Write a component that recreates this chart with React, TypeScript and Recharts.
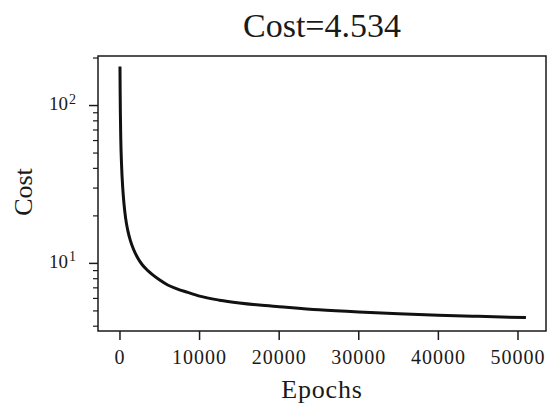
import { LineChart, Line, XAxis, YAxis, ReferenceArea } from 'recharts';

const epochs = [0, 25, 50, 100, 200, 350, 500, 700, 1000, 1300, 1700, 2200, 2800, 3500, 4200, 5000, 6000, 7000, 8500, 10000, 12500, 15000, 17500, 20000, 25000, 30000, 35000, 40000, 45000, 51000];
const cost = [177, 120, 90, 62, 42, 30, 24, 19.5, 16, 14, 12.3, 10.9, 9.8, 9.0, 8.4, 7.85, 7.3, 6.95, 6.55, 6.2, 5.85, 5.62, 5.45, 5.32, 5.08, 4.92, 4.8, 4.7, 4.62, 4.534];

const xTicks = [0, 10000, 20000, 30000, 40000, 50000];
const yMajor = [10, 100];
const yMinor = [4, 5, 6, 7, 8, 9, 20, 30, 40, 50, 60, 70, 80, 90, 200];

const title = 'Cost=4.534';
const xLabel = 'Epochs';
const yLabel = 'Cost';

const rows = epochs.map((e, i) => ({ epoch: e, cost: cost[i] }));

const FONT = '"Liberation Serif", "Times New Roman", serif';
const INK = '#1a1a1a';

const XTick = (props: any) => {
    const { x, y, payload } = props;
    return (
        <g>
            <line x1={x} x2={x} y1={y} y2={y + 9} stroke={INK} strokeWidth={1.5} />
            <text x={x} y={y + 33} textAnchor='middle' fontFamily={FONT} fontSize={20} letterSpacing={1} fill={INK}>
                {payload.value}
            </text>
        </g>
    );
};

const YTick = (props: any) => {
    const { x, y, payload } = props;
    const v = payload.value;
    const major = yMajor.includes(v);
    if (!major) {
        return <line x1={x - 5} x2={x} y1={y} y2={y} stroke={INK} strokeWidth={1.2} />;
    }
    const exp = Math.round(Math.log10(v));
    return (
        <g>
            <line x1={x - 9} x2={x} y1={y} y2={y} stroke={INK} strokeWidth={1.5} />
            <text x={68} y={y + 4.5} textAnchor='end' fontFamily={FONT} fontSize={19} fill={INK}>10</text>
            <text x={69} y={y - 2} textAnchor='start' fontFamily={FONT} fontSize={14} fill={INK}>{exp}</text>
        </g>
    );
};

export default function App() {
    return (
        <div style={{ position: 'absolute', left: 0, top: 0, width: 548, height: 405, background: '#fff' }}>
            <LineChart width={548} height={405} data={rows} margin={{ top: 56, right: 2, bottom: 0, left: 0 }}>
                <XAxis
                    dataKey='epoch'
                    type='number'
                    domain={[-2760, 53520]}
                    allowDataOverflow
                    ticks={xTicks}
                    height={74}
                    tickSize={0}
                    tickMargin={0}
                    tickLine={false}
                    axisLine={false}
                    tick={<XTick />}
                    interval={0}
                />
                <YAxis
                    dataKey='cost'
                    scale='log'
                    type='number'
                    domain={[3.73, 206]}
                    allowDataOverflow
                    ticks={[...yMinor, ...yMajor].sort((a, b) => a - b)}
                    width={98}
                    tickSize={0}
                    tickMargin={0}
                    tickLine={false}
                    axisLine={false}
                    tick={<YTick />}
                    interval={0}
                />
                <ReferenceArea x1={-2760} x2={53520} y1={3.73} y2={206} fill='none' stroke={INK} strokeWidth={1.5} />
                <Line
                    dataKey='cost'
                    type='monotone'
                    stroke='#111'
                    strokeWidth={3}
                    dot={false}
                    isAnimationActive={false}
                />
            </LineChart>
            <svg width={548} height={405} style={{ position: 'absolute', left: 0, top: 0, pointerEvents: 'none' }}>
                <text x={322} y={37} textAnchor='middle' fontFamily={FONT} fontSize={34} fill={INK}>{title}</text>
                <text x={322} y={398} textAnchor='middle' fontFamily={FONT} fontSize={26} letterSpacing={0.8} fill={INK}>{xLabel}</text>
                <text x={32} y={192} textAnchor='middle' fontFamily={FONT} fontSize={26} fill={INK} transform='rotate(-90 32 192)'>{yLabel}</text>
            </svg>
        </div>
    );
}
